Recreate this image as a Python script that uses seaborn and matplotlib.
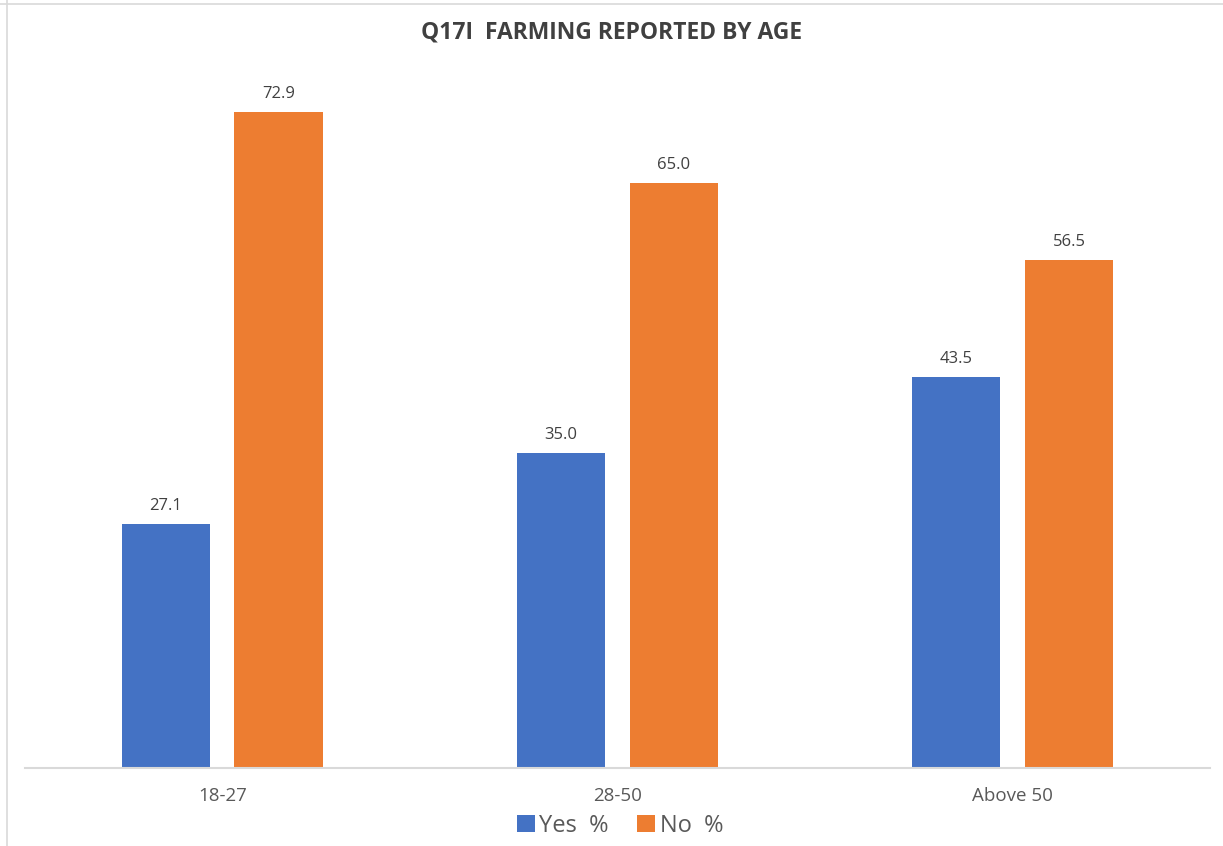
import pandas as pd
import matplotlib.pyplot as plt
import seaborn as sns
from matplotlib.lines import Line2D
from matplotlib.patches import Patch

# chart values
age_groups = ['18-27', '28-50', 'Above 50']
yes_pct = [27.1, 35.0, 43.5]
no_pct = [72.9, 65.0, 56.5]
series_names = ['Yes  %', 'No  %']
colors = ['#4472C4', '#ED7D31']

df = pd.DataFrame({
    'age': age_groups * 2,
    'pct': yes_pct + no_pct,
    'resp': [series_names[0]] * 3 + [series_names[1]] * 3,
})

sns.set_style('white')
plt.rcParams['font.family'] = ['Open Sans', 'DejaVu Sans']

fig = plt.figure(figsize=(12.23, 8.46), dpi=100)
ax = fig.add_axes([0.0204, 0.0922, 0.969, 0.851])

sns.barplot(data=df, x='age', y='pct', hue='resp', palette=colors,
            width=0.572, gap=0.213, saturation=1, legend=False,
            linewidth=0, ax=ax)

for cont in ax.containers:
    ax.bar_label(cont, fmt='%.1f', padding=7, fontsize=12, color='#404040')

ax.set_xlim(-0.5, 2.5)
ax.set_ylim(0, 80)
ax.set_xlabel('')
ax.set_ylabel('')
ax.set_yticks([])
ax.tick_params(axis='x', length=0, pad=14, labelsize=13.5, labelcolor='#595959')
for side in ['top', 'right', 'left']:
    ax.spines[side].set_visible(False)
ax.spines['bottom'].set_color('#D9D9D9')
ax.spines['bottom'].set_linewidth(1.5)

fig.text(0.5, 0.962, 'Q17I  FARMING REPORTED BY AGE', ha='center', va='center',
         fontsize=16.5, fontweight='bold', color='#404040')

handles = [Patch(facecolor=c, edgecolor='none') for c in colors]
fig.legend(handles, series_names, loc='center', bbox_to_anchor=(0.507, 0.024),
           ncol=2, frameon=False, fontsize=17, labelcolor='#595959',
           handlelength=0.75, handleheight=0.75, handletextpad=0.2,
           columnspacing=1.2)

# outer chart border (top and left edges visible)
fig.add_artist(Line2D([0, 1], [0.995, 0.995], transform=fig.transFigure,
                      color='#D9D9D9', lw=1.2))
fig.add_artist(Line2D([0.006, 0.006], [0, 1], transform=fig.transFigure,
                      color='#D9D9D9', lw=1.2))

fig.savefig('out.png', dpi=100)
